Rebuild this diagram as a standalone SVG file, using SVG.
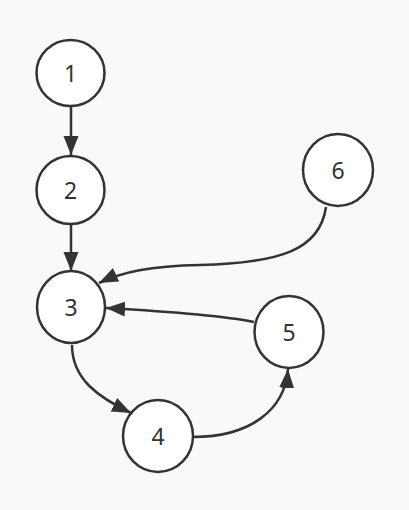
<svg xmlns="http://www.w3.org/2000/svg" width="409" height="510" viewBox="0 0 409 510">
<style>
.node ellipse{fill:#ffffff;stroke:#333333;stroke-width:2.5}
.node text{font-family:"Noto Sans","Open Sans","DejaVu Sans",sans-serif;font-size:23px;fill:#333333;text-anchor:middle;dominant-baseline:central}
.edge{fill:none;stroke:#333333;stroke-width:2.5}
</style>
<defs>
<marker id="arr" markerUnits="userSpaceOnUse" markerWidth="20" markerHeight="16" viewBox="0 0 20 16" refX="19" refY="8" orient="auto">
<path d="M0,0.5 L19,8 L0,15.5 Z" fill="#333333"/>
</marker>
</defs>
<rect width="409" height="510" fill="#f9f9f9"/>
<g id="edges">
<path class="edge" d="M71,106 L71,155" marker-end="url(#arr)"/>
<path class="edge" d="M71,224 L71,271" marker-end="url(#arr)"/>
<path class="edge" d="M326,207 C320,250 280,263 200,265 C150,266 122,272 99,283" marker-end="url(#arr)"/>
<path class="edge" d="M254,322 C220,315 160,311 106,308" marker-end="url(#arr)"/>
<path class="edge" d="M72,345 C72,380 100,398 131,413" marker-end="url(#arr)"/>
<path class="edge" d="M193,437 C250,437 285,410 288,369" marker-end="url(#arr)"/>
</g>
<g id="node1" class="node"><ellipse cx="70.5" cy="73" rx="34" ry="33"/><text x="70.5" y="73">1</text></g>
<g id="node2" class="node"><ellipse cx="70.5" cy="190" rx="34" ry="34"/><text x="70.5" y="190">2</text></g>
<g id="node3" class="node"><ellipse cx="71" cy="307" rx="34" ry="36"/><text x="71" y="307">3</text></g>
<g id="node4" class="node"><ellipse cx="158" cy="436" rx="35" ry="36"/><text x="158" y="436">4</text></g>
<g id="node5" class="node"><ellipse cx="289" cy="332" rx="34.5" ry="36"/><text x="289" y="332">5</text></g>
<g id="node6" class="node"><ellipse cx="338" cy="170" rx="35" ry="36"/><text x="338" y="170">6</text></g>
</svg>
